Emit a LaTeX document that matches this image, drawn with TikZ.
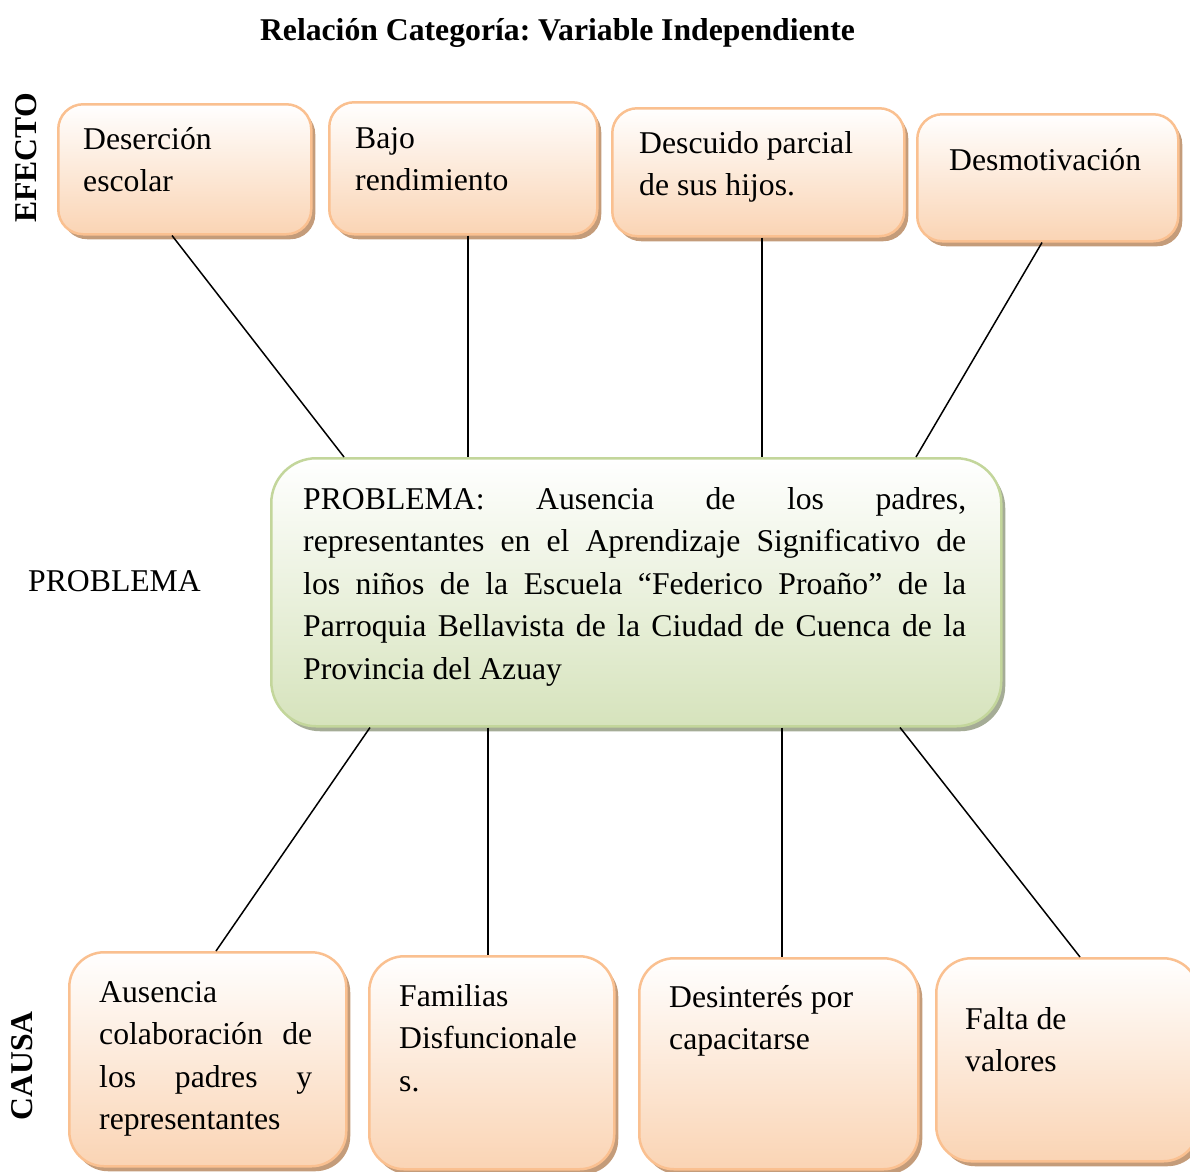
\documentclass[tikz,border=0pt]{standalone}
\usepackage{fontspec}
\setmainfont{Liberation Serif}
\usetikzlibrary{shadows}
\frenchspacing
\definecolor{peach}{RGB}{250,212,180}
\definecolor{peachline}{RGB}{250,192,144}
\definecolor{peachshadow}{RGB}{196,156,122}
\definecolor{greenfill}{RGB}{214,227,188}
\definecolor{greenline}{RGB}{195,214,155}
\definecolor{greenshadow}{RGB}{165,172,150}
\tikzset{
  ebox/.style={draw=peachline, line width=2.5pt, top color=white, bottom color=peach,
    rounded corners=#1, anchor=north west, inner sep=0pt,
    drop shadow={shadow xshift=4pt, shadow yshift=-5pt, fill=peachshadow, opacity=1}},
  ebox/.default=25pt,
  gbox/.style={draw=greenline, line width=2.5pt, top color=white, bottom color=greenfill,
    rounded corners=45pt, anchor=north west, inner sep=0pt,
    drop shadow={shadow xshift=4pt, shadow yshift=-5pt, fill=greenshadow, opacity=1}},
  txt/.style={anchor=base west, inner sep=0pt, font=\fontsize{31.7}{42.5}\selectfont},
  lbl/.style={inner sep=0pt, font=\fontsize{31.7}{38}\selectfont},
  conn/.style={draw=black, line width=1.5pt}
}
\begin{document}
\begin{tikzpicture}[x=1pt,y=-1pt]
\useasboundingbox (0,0) rectangle (1190,1171);
\clip (0,0) rectangle (1190,1171);
% title and side labels
\node[lbl, anchor=base, font=\fontsize{31.7}{38}\selectfont\bfseries] (title) at (557.5,40) {Relación Categoría: Variable Independiente};
\node[lbl, rotate=90, font=\fontsize{31.7}{38}\selectfont\bfseries] (efecto) at (26,158) {EFECTO};
\node[lbl, rotate=90, font=\fontsize{31.7}{38}\selectfont\bfseries] (causa) at (22,1066) {CAUSA};
\node[lbl, anchor=base west] (problbl) at (28,591) {PROBLEMA};
% effect boxes
\node[ebox, minimum width=253pt, minimum height=130pt] (t1) at (57,103) {};
\node[ebox, minimum width=268pt, minimum height=132pt] (t2) at (328,101) {};
\node[ebox, minimum width=292pt, minimum height=128pt] (t3) at (611,107) {};
\node[ebox, minimum width=261pt, minimum height=127pt] (t4) at (916,113) {};
% problem box
\node[gbox, minimum width=730pt, minimum height=268pt] (c) at (270,457) {};
% cause boxes
\node[ebox=35pt, minimum width=277pt, minimum height=214pt] (b1) at (68,951) {};
\node[ebox=35pt, minimum width=245pt, minimum height=213pt] (b2) at (368,955) {};
\node[ebox=35pt, minimum width=279pt, minimum height=211pt] (b3) at (638,957) {};
\node[ebox=35pt, minimum width=262pt, minimum height=203pt] (b4) at (935,957) {};
% connectors
\draw[conn] ([xshift=115pt]t1.south west) -- ([xshift=74pt]c.north west);
\draw[conn] ([xshift=140pt]t2.south west) -- ([xshift=198pt]c.north west);
\draw[conn] ([xshift=151pt]t3.south west) -- ([xshift=492pt]c.north west);
\draw[conn] ([xshift=126pt]t4.south west) -- ([xshift=646pt]c.north west);
\draw[conn] ([xshift=100pt]c.south west) -- ([xshift=148pt]b1.north west);
\draw[conn] ([xshift=218pt]c.south west) -- ([xshift=120pt]b2.north west);
\draw[conn] ([xshift=512pt]c.south west) -- ([xshift=144pt]b3.north west);
\draw[conn] ([xshift=630pt]c.south west) -- ([xshift=145pt]b4.north west);
% texts
\node[txt] (t1txt) at (83,149) {\vtop{\hbox{Deserción}\hbox{escolar}}};
\node[txt] (t2txt) at (355,148) {\vtop{\hbox{Bajo}\hbox{rendimiento}}};
\node[txt] (t3txt) at (639,153) {\vtop{\hbox{Descuido parcial}\hbox{de sus hijos.}}};
\node[txt] (t4txt) at (949,170) {Desmotivación};
\node[txt] (ctxt) at (303,509) {\vtop{%
  \hbox to 663pt{PROBLEMA: Ausencia de los padres,}%
  \hbox to 663pt{representantes en el Aprendizaje Significativo de}%
  \hbox to 663pt{los niños de la Escuela “Federico Proaño” de la}%
  \hbox to 663pt{Parroquia Bellavista de la Ciudad de Cuenca de la}%
  \hbox{Provincia del Azuay}}};
\node[txt] (b1txt) at (99,1002) {\vtop{%
  \hbox{Ausencia}%
  \hbox to 213pt{colaboración de}%
  \hbox to 213pt{los padres y}%
  \hbox{representantes}}};
\node[txt] (b2txt) at (399,1006) {\vtop{\hbox{Familias}\hbox{Disfuncionale}\hbox{s.}}};
\node[txt] (b3txt) at (669,1007) {\vtop{\hbox{Desinterés por}\hbox{capacitarse}}};
\node[txt] (b4txt) at (965,1029) {\vtop{\hbox{Falta de}\hbox{valores}}};
\end{tikzpicture}
\end{document}
